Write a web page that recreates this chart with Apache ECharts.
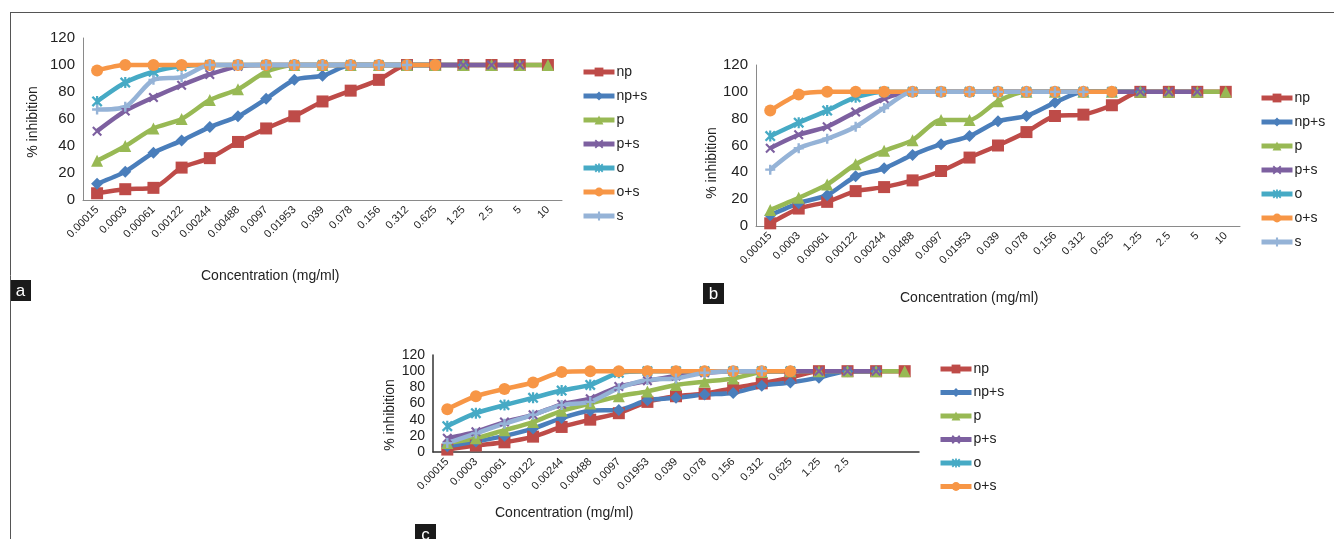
<!DOCTYPE html>
<html>
<head>
<meta charset="utf-8">
<script src="https://cdn.jsdelivr.net/npm/echarts@6/dist/echarts.min.js"></script>
<style>
  html, body { margin: 0; padding: 0; background: #fff; }
  #chart { width: 1334px; height: 539px; }
</style>
</head>
<body>
<div id="chart"></div>
<script>
const categories = ['0.00015', '0.0003', '0.00061', '0.00122', '0.00244', '0.00488', '0.0097', '0.01953',
    '0.039', '0.078', '0.156', '0.312', '0.625', '1.25', '2.5', '5', '10'];
// panel c shows no label for the last two points
const tickLabelsC = ['0.00015', '0.0003', '0.00061', '0.00122', '0.00244', '0.00488', '0.0097', '0.01953',
    '0.039', '0.078', '0.156', '0.312', '0.625', '1.25', '2.5', '', ''];
const yTicks = [0, 20, 40, 60, 80, 100, 120];

const names = ['np', 'np+s', 'p', 'p+s', 'o', 'o+s', 's'];

// panel a
const aNp   = [5, 8, 9, 24, 31, 43, 53, 62, 73, 81, 89, 100, 100, 100, 100, 100, 100];
const aNpS  = [12, 21, 35, 44, 54, 62, 75, 89, 92, 100, 100, 100, 100, 100, '-', '-', '-'];
const aP    = [29, 40, 53, 60, 74, 82, 95, 100, 100, 100, 100, 100, 100, 100, 100, 100, 100];
const aPS   = [51, 66, 76, 85, 93, 99, 100, 100, 100, 100, 100, 100, 100, 100, 100, 100, '-'];
const aO    = [73, 87, 95, 99, 100, 100, 100, 100, 100, 100, 100, 100, 100, '-', '-', '-', '-'];
const aOS   = [96, 100, 100, 100, 100, 100, 100, 100, 100, 100, 100, 100, 100, '-', '-', '-', '-'];
const aS    = [67, 69, 89, 91, 100, 100, 100, 100, 100, 100, 100, 100, '-', '-', '-', '-', '-'];

// panel b
const bNp   = [2, 13, 18, 26, 29, 34, 41, 51, 60, 70, 82, 83, 90, 100, 100, 100, 100];
const bNpS  = [8, 17, 23, 37, 43, 53, 61, 67, 78, 82, 92, 100, 100, 100, '-', '-', '-'];
const bP    = [12, 21, 31, 46, 56, 64, 79, 79, 93, 100, 100, 100, 100, 100, 100, 100, 100];
const bPS   = [58, 68, 74, 85, 95, 100, 100, 100, 100, 100, 100, 100, 100, 100, 100, 100, '-'];
const bO    = [67, 77, 86, 96, 100, 100, 100, 100, 100, 100, 100, 100, 100, '-', '-', '-', '-'];
const bOS   = [86, 98, 100, 100, 100, 100, 100, 100, 100, 100, 100, 100, 100, '-', '-', '-', '-'];
const bS    = [42, 58, 65, 74, 88, 100, 100, 100, 100, 100, 100, 100, '-', '-', '-', '-', '-'];

// panel c
const cNp   = [3, 8, 12, 19, 31, 40, 48, 62, 69, 72, 79, 85, 92, 100, 100, 100, 100];
const cNpS  = [7, 13, 20, 29, 42, 51, 52, 64, 67, 71, 73, 82, 86, 92, 100, 100, '-'];
const cP    = [11, 17, 27, 37, 51, 60, 69, 75, 83, 87, 91, 99, 100, 100, 100, 100, 100];
const cPS   = [17, 25, 37, 46, 59, 66, 81, 88, 94, 98, 100, 100, 100, 100, 100, 100, '-'];
const cO    = [32, 48, 58, 67, 76, 83, 98, 100, 100, 100, 100, 100, 100, '-', '-', '-', '-'];
const cOS   = [53, 69, 78, 86, 99, 100, 100, 100, 100, 100, 100, 100, 100, '-', '-', '-', '-'];
const cS    = [11, 23, 35, 46, 58, 62, 79, 89, 91, 98, 100, 100, '-', '-', '-', '-', '-'];

const colors = ['#BE4B48', '#4A7EBB', '#98B954', '#7D60A0', '#46AAC5', '#F79646', '#95B3D7'];
const symbols = [
    'rect',
    'diamond',
    'triangle',
    'path://M1.5,0L5,3.5L8.5,0L10,1.5L6.5,5L10,8.5L8.5,10L5,6.5L1.5,10L0,8.5L3.5,5L0,1.5Z',
    'path://M1.5,0L5,3.5L8.5,0L10,1.5L6.5,5L10,8.5L8.5,10L5,6.5L1.5,10L0,8.5L3.5,5L0,1.5ZM4,0H6V10H4Z',
    'circle',
    'path://M3.8,0H6.2V3.8H10V6.2H6.2V10H3.8V6.2H0V3.8H3.8Z'
];
const symbolSizes = [12, 12, 12, 10, 11, 12, 10];

const panels = [
    { data: [aNp, aNpS, aP, aPS, aO, aOS, aS], grid: { left: 83, top: 38, width: 479, height: 162 },
      lineW: 4.5, xTitle: [281, 278], yTitle: [33, 122], legend: [576, 60], gap: 10, legendNames: names, letter: ['a', 10, 280] },
    { data: [bNp, bNpS, bP, bPS, bO, bOS, bS], grid: { left: 756, top: 65, width: 484, height: 161 },
      lineW: 4.5, xTitle: [980, 300], yTitle: [712, 163], legend: [1254, 86], gap: 10, legendNames: names, letter: ['b', 703, 283] },
    { data: [cNp, cNpS, cP, cPS, cO, cOS, cS], grid: { left: 433, top: 355, width: 486, height: 97 },
      lineW: 4.5, xTitle: [575, 515], yTitle: [390, 415], legend: [933, 357], gap: 9.5, legendNames: names.slice(0, 6), letter: ['c', 415, 524] }
];

const font = 'Liberation Sans, Arial, sans-serif';

const grid = [], xAxis = [], yAxis = [], series = [], legend = [], graphic = [];

panels.forEach(function(p, pi) {
    grid.push(p.grid);
    xAxis.push({
        type: 'category',
        gridIndex: pi,
        data: categories,
        boundaryGap: true,
        axisLine: { lineStyle: { color: pi === 2 ? '#333' : '#8a8a8a', width: pi === 2 ? 1.5 : 1 } },
        axisTick: { show: false },
        axisLabel: {
            interval: 0,
            rotate: 45,
            fontSize: 11,
            fontFamily: font,
            color: '#222',
            margin: 8,
            formatter: function(v, i) { return pi === 2 ? tickLabelsC[i] : v; }
        }
    });
    yAxis.push({
        type: 'value',
        gridIndex: pi,
        min: yTicks[0],
        max: yTicks[yTicks.length - 1],
        interval: 20,
        axisLine: { show: true, lineStyle: { color: pi === 2 ? '#333' : '#8a8a8a', width: pi === 2 ? 1.5 : 1 } },
        axisTick: { show: false },
        splitLine: { show: false },
        axisLabel: { fontSize: pi === 2 ? 14 : 15, fontFamily: font, color: '#222', margin: 8 }
    });
    p.data.forEach(function(d, si) {
        series.push({
            type: 'line',
            name: names[si],
            xAxisIndex: pi,
            yAxisIndex: pi,
            data: d,
            smooth: 0.25,
            symbol: symbols[si],
            symbolSize: symbolSizes[si],
            showAllSymbol: true,
            lineStyle: { color: colors[si], width: p.lineW },
            itemStyle: { color: colors[si] },
            animation: false
        });
    });
    legend.push({
        orient: 'vertical',
        left: p.legend[0],
        top: p.legend[1],
        data: p.legendNames,
        itemWidth: 31,
        itemHeight: 11,
        itemGap: p.gap,
        lineStyle: { width: 5 },
        textStyle: { fontSize: 14, fontFamily: font, color: '#222', padding: [0, 0, 0, -3] }
    });
    graphic.push({
        type: 'text',
        left: p.xTitle[0] - 80,
        top: p.xTitle[1] - 9,
        style: { text: 'Concentration (mg/ml)', fontSize: 14, fontFamily: font, fill: '#222', width: 160, align: 'center' }
    });
    graphic.push({
        type: 'text',
        x: p.yTitle[0],
        y: p.yTitle[1],
        rotation: Math.PI / 2,
        style: { text: '% inhibition', fontSize: 14, fontFamily: font, fill: '#222', align: 'center', verticalAlign: 'middle' }
    });
    graphic.push({
        type: 'rect',
        shape: { x: p.letter[1], y: p.letter[2], width: 21, height: 21 },
        style: { fill: '#1a1a1a' }
    });
    graphic.push({
        type: 'text',
        x: p.letter[1] + 10.5,
        y: p.letter[2] + 11,
        style: { text: p.letter[0], fontSize: 17, fontFamily: font, fill: '#fff', align: 'center', verticalAlign: 'middle' }
    });
});

// figure frame
graphic.push({ type: 'line', shape: { x1: 10, y1: 12.5, x2: 1334, y2: 12.5 }, style: { stroke: '#555', lineWidth: 1 } });
graphic.push({ type: 'line', shape: { x1: 10.5, y1: 12, x2: 10.5, y2: 539 }, style: { stroke: '#555', lineWidth: 1 } });

const chart = echarts.init(document.getElementById('chart'));
chart.setOption({
    animation: false,
    grid: grid,
    xAxis: xAxis,
    yAxis: yAxis,
    legend: legend,
    series: series,
    graphic: graphic
});
</script>
</body>
</html>
